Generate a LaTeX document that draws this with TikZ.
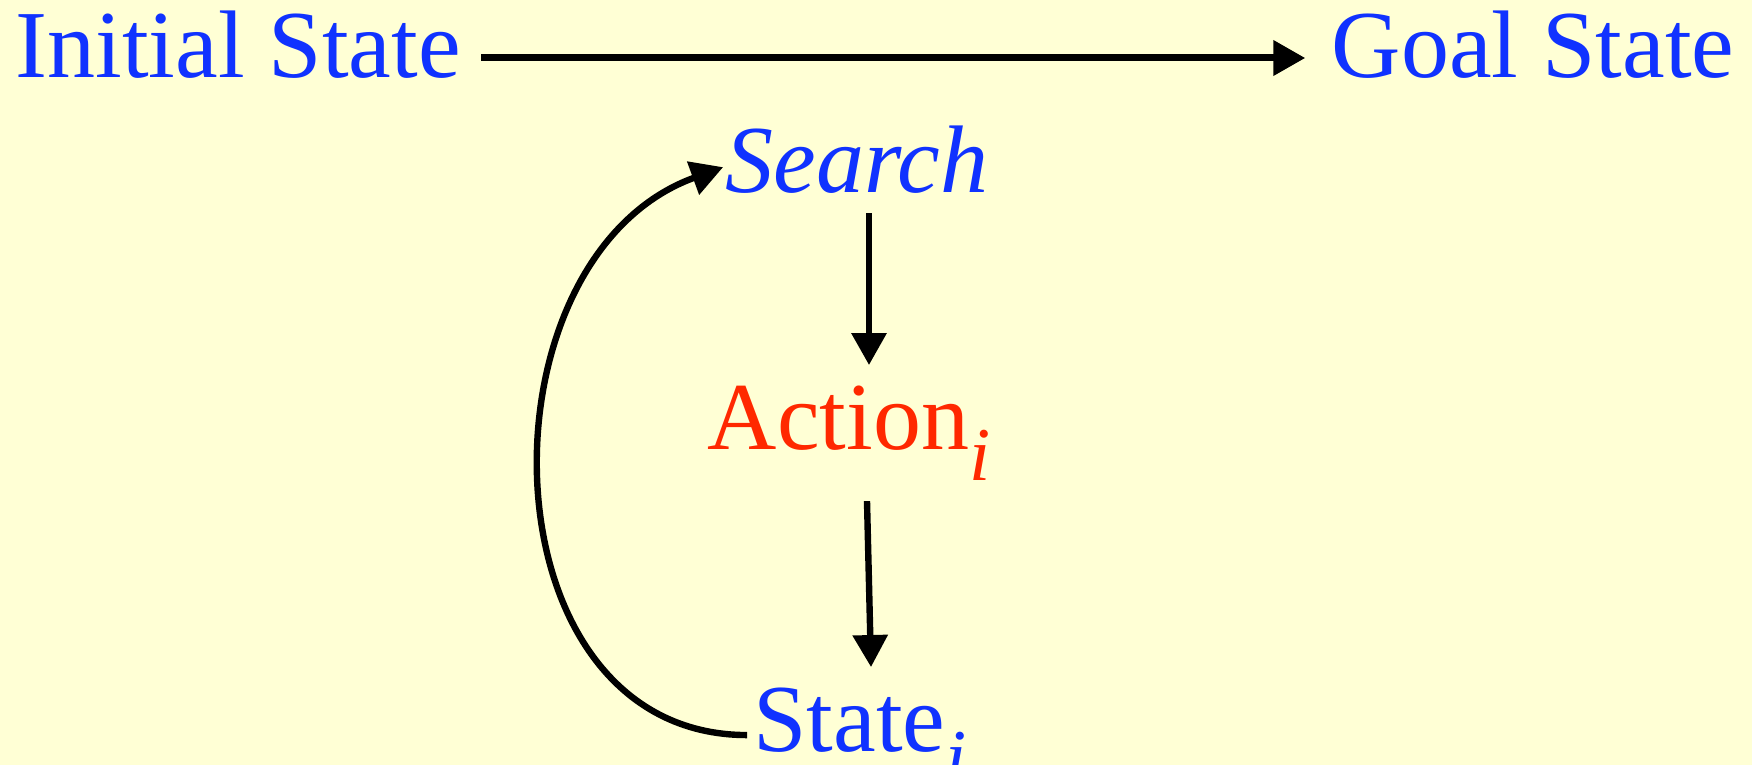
\documentclass[tikz,border=0pt]{standalone}
\usepackage{fontspec}
\setmainfont{Liberation Serif}
\usepackage{xcolor}
\definecolor{stateblue}{RGB}{16, 50, 255}
\definecolor{actionred}{RGB}{255, 40, 0}
\definecolor{paperyellow}{RGB}{255, 255, 213}
\usepackage{tikz}
\usetikzlibrary{arrows.meta, positioning, calc}

\newcommand{\lowidx}[1]{\raisebox{-0.33em}{\fontsize{38}{38}\selectfont\itshape #1}}

\begin{document}
\begin{tikzpicture}[x=0.5pt, y=0.5pt, >={Triangle[length=16pt, width=17pt]}]

        % Estilos dos textos e das setas
        \tikzstyle{term} = [font=\fontsize{48}{56}\selectfont, text=stateblue, inner sep=10pt, anchor=base]
        \tikzstyle{link} = [->, line width=3.2pt, draw=black]

        % Fundo amarelo (fixa as margens)
        \useasboundingbox (0,0) rectangle (1752,-765);
        \fill [paperyellow] (0,0) rectangle (1752,-765);

        % Estados do problema
        \node [term] (initial) at (238,-78) {Initial State};
        \node [term] (goal) at (1533,-78) {Goal State};

        % Ciclo de busca
        \node [term, font=\fontsize{48}{56}\selectfont\itshape] (search) at (857,-192) {Search};
        \node [term, text=actionred] (action) at (849,-449) {Action\lowidx{i}};
        \node [term] (state) at (860,-751) {State\lowidx{i}};

        % ---------------------------------------------------------
        % Setas
        % ---------------------------------------------------------
        \draw [link, line width=3.5pt] ([yshift=10pt]initial.base east) -- ([yshift=10pt, xshift=-3pt]goal.base west);

        \draw [link] ([xshift=6pt]search.south) -- ([xshift=10pt]action.north);
        \draw [link] ([xshift=9pt]action.south) -- ([xshift=5.5pt]state.north);

        % Volta do estado para a busca
        \draw [link] ([xshift=7pt]state.west) to[out=180, in=200, looseness=1.2] ([xshift=9pt, yshift=-4pt]search.west);
    \end{tikzpicture}
\end{document}
